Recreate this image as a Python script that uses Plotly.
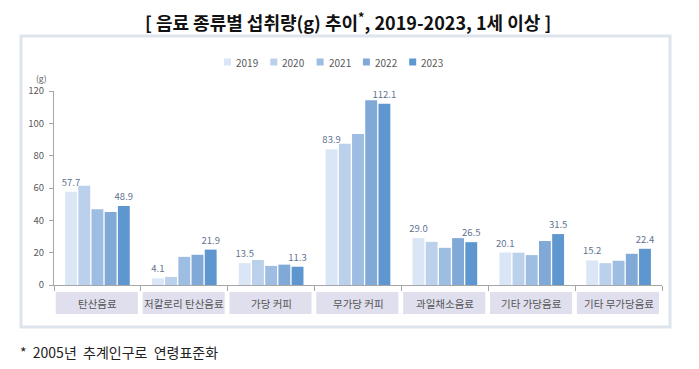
import plotly.graph_objects as go

categories = ["탄산음료", "저칼로리 탄산음료", "가당 커피", "무가당 커피",
              "과일채소음료", "기타 가당음료", "기타 무가당음료"]
years = ["2019", "2020", "2021", "2022", "2023"]
v2019 = [57.7, 4.1, 13.5, 83.9, 29.0, 20.1, 15.2]
v2020 = [61.4, 5.0, 15.5, 87.4, 26.7, 20.0, 13.5]
v2021 = [46.8, 17.4, 11.8, 93.4, 23.0, 18.5, 15.0]
v2022 = [45.2, 18.7, 12.6, 114.3, 29.0, 27.2, 19.3]
v2023 = [48.9, 21.9, 11.3, 112.1, 26.5, 31.5, 22.4]
series = [v2019, v2020, v2021, v2022, v2023]
labeled_years = {"2019", "2023"}
colors = ["#dae6f6", "#bad0eb", "#9ebde3", "#80a9d8", "#5e97cf"]

OFF = 8  # default page body margin
W, H = 699 - OFF, 369 - OFF
# plot area in page pixels: x 54..662, y 91..285
L, T = 54 - OFF, 91 - OFF
R = W - (662 - OFF)
B = H - (285 - OFF)
pw, ph = W - L - R, H - T - B

def px_x(px):
    return (px - 54) / pw

def px_y(py):
    return (285 - py) / ph

FONT = "Noto Sans CJK KR"
fig = go.Figure()
for yr, vals, col in zip(years, series, colors):
    txt = [f"{v:.1f}" if yr in labeled_years else "" for v in vals]
    fig.add_trace(go.Bar(
        x=categories, y=vals, name=yr, marker=dict(color=col, line=dict(width=0)),
        text=txt, textposition="outside", cliponaxis=False, constraintext="none",
        textfont=dict(size=9.5, color="#5f7391", family=FONT),
        showlegend=False, hoverinfo="skip"))

shapes = []
annotations = []
# outer frame
shapes.append(dict(type="rect", xref="paper", yref="paper",
                   x0=px_x(21), x1=px_x(670), y0=px_y(327), y1=px_y(36),
                   line=dict(color="#dde4ec", width=3), layer="below"))
# category label boxes
n = len(categories)
for i, c in enumerate(categories):
    x0 = (i + 0.02) / n
    x1 = (i + 0.965) / n
    shapes.append(dict(type="rect", xref="paper", yref="paper",
                       x0=x0, x1=x1, y0=px_y(314), y1=px_y(292),
                       fillcolor="#dfdfee", line=dict(width=0), layer="below"))
    annotations.append(dict(x=c, xref="x", y=px_y(303.5), yref="paper", text=c,
                            showarrow=False, yanchor="middle",
                            font=dict(size=10.5, color="#555555", family=FONT)))
# custom legend
for k, (yr, col) in enumerate(zip(years, colors)):
    mx = 224 + 46.3 * k
    shapes.append(dict(type="rect", xref="paper", yref="paper",
                       x0=px_x(mx), x1=px_x(mx + 7), y0=px_y(65.5), y1=px_y(58.5),
                       fillcolor=col, line=dict(width=0)))
    annotations.append(dict(x=px_x(mx + 10), xref="paper", y=px_y(62), yref="paper",
                            text=yr, showarrow=False, xanchor="left", yanchor="middle",
                            font=dict(size=10, color="#595959", family=FONT)))
# unit label
annotations.append(dict(x=px_x(41.5), xref="paper", y=px_y(77.5), yref="paper",
                        text="(g)", showarrow=False, xanchor="center", yanchor="middle",
                        font=dict(size=8.5, color="#595959", family=FONT)))
# title
annotations.append(dict(x=px_x(348), xref="paper", xanchor="center", y=px_y(21), yref="paper",
                        yanchor="middle", showarrow=False, borderpad=0,
                        text="<b>[ 음료 종류별 섭취량(g) 추이<sup>*</sup>, 2019-2023, 1세 이상 ]</b>",
                        font=dict(size=18, color="#111111", family=FONT)))
# footnote
annotations.append(dict(x=px_x(18), xref="paper", xanchor="left", y=px_y(352), yref="paper",
                        yanchor="middle", showarrow=False,
                        text="*  2005년  추계인구로  연령표준화",
                        font=dict(size=14, color="#222222", family=FONT)))

fig.update_layout(
    width=W, height=H, margin=dict(l=L, r=R, t=T, b=B, pad=0),
    paper_bgcolor="white", plot_bgcolor="white",
    barmode="group", bargap=0.24, bargroupgap=0.1,
    shapes=shapes, annotations=annotations, showlegend=False,
    font=dict(family=FONT),
    xaxis=dict(type="category", showline=True, linecolor="#a6a6a6", linewidth=1,
               ticks="outside", tickson="boundaries", ticklen=5, tickcolor="#a6a6a6",
               showticklabels=False, showgrid=False, zeroline=False, fixedrange=True),
    yaxis=dict(range=[0, 120], dtick=20, showline=True, linecolor="#a6a6a6", linewidth=1,
               ticks="outside", ticklen=4, tickcolor="#a6a6a6", showgrid=False,
               zeroline=False, tickfont=dict(size=9.5, color="#595959", family=FONT),
               ticklabelstandoff=3),
)
fig.write_html("out.html")
